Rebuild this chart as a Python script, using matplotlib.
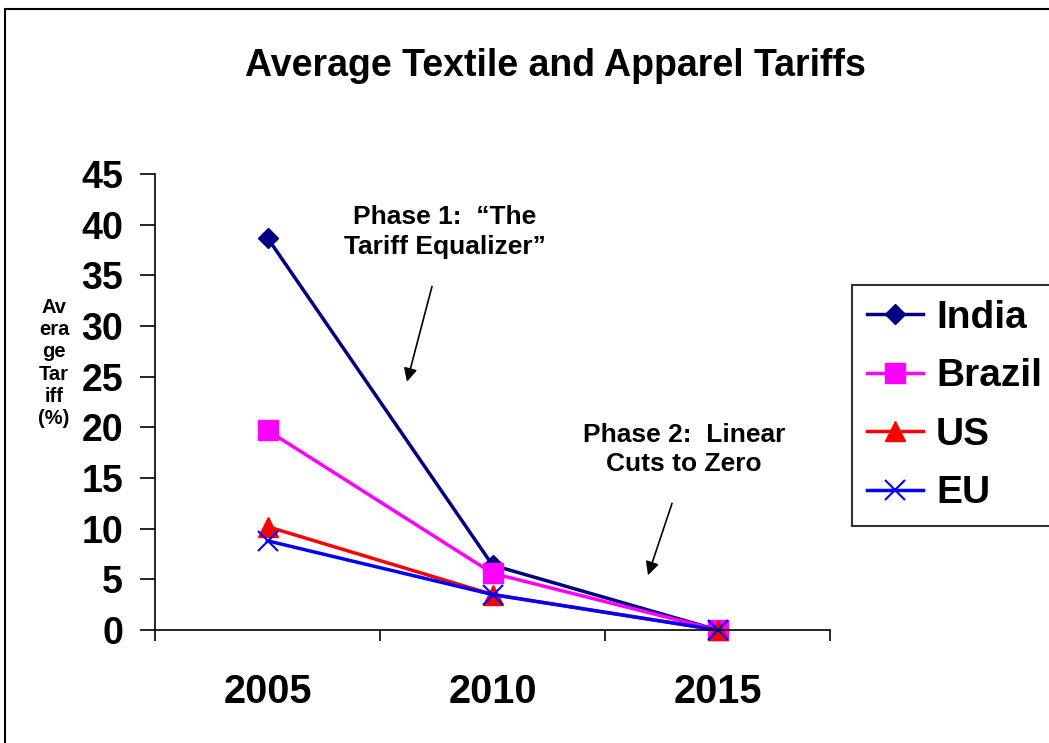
import matplotlib.pyplot as plt
from matplotlib.patches import Rectangle

years = ["2005", "2010", "2015"]
india = [38.7, 6.4, 0.0]
brazil = [19.7, 5.6, 0.0]
us = [10.2, 3.5, 0.0]
eu = [8.8, 3.5, 0.0]
yticks = [0, 5, 10, 15, 20, 25, 30, 35, 40, 45]

plt.rcParams['font.family'] = ['Liberation Sans', 'DejaVu Sans']
plt.rcParams['font.weight'] = 'bold'

fig = plt.figure(figsize=(10.49, 7.43), dpi=100)
ax = fig.add_axes([155 / 1049, 1 - 630 / 743, 675 / 1049, 456 / 743])

x = range(len(years))
ax.plot(x, india, color='#000080', lw=2.5, marker='D', ms=10, label='India', clip_on=False)
ax.plot(x, brazil, color='#FF00FF', lw=2.5, marker='s', ms=15, label='Brazil', clip_on=False)
ax.plot(x, us, color='#FF0000', lw=2.5, marker='^', ms=14, label='US', clip_on=False)
ax.plot(x, eu, color='#0000FF', lw=2.5, marker='x', ms=14, mew=1.5, label='EU', clip_on=False)

ax.set_xlim(-0.5, 2.5)
ax.set_ylim(0, 45)
ax.set_yticks(yticks)
ax.set_yticklabels([str(t) for t in yticks], fontsize=27, fontweight='bold')
# category boundaries get the tick marks, the year labels sit between them
ax.set_xticks([-0.5, 0.5, 1.5, 2.5])
ax.set_xticklabels([])
ax.set_xticks(list(x), minor=True)
ax.set_xticklabels(years, minor=True, fontsize=28.5, fontweight='bold')
ax.tick_params(axis='x', which='minor', length=0, pad=31)
ax.tick_params(axis='x', which='major', length=8, width=1.2, direction='out')
ax.tick_params(axis='y', length=11, width=1.2, direction='out', pad=12)
ax.spines['top'].set_visible(False)
ax.spines['right'].set_visible(False)
ax.spines['left'].set_linewidth(1.2)
ax.spines['bottom'].set_linewidth(1.2)

fig.text(555 / 1049, 1 - 66 / 743, "Average Textile and Apparel Tariffs",
         ha='center', va='center', fontsize=27, fontweight='bold')
fig.text(54 / 1049, 1 - 363 / 743, "Av\nera\nge\nTar\niff\n(%)",
         ha='center', va='center', fontsize=14.5, fontweight='bold', linespacing=1.22)

# phase notes and their arrows
ax.text(0.789, 39.3, "Phase 1:  \u201cThe\nTariff Equalizer\u201d", ha='center', va='center',
        fontsize=19, fontweight='bold', linespacing=1.3)
ax.annotate("", xy=(0.62, 24.5), xytext=(0.731, 33.9),
            arrowprops=dict(arrowstyle='-|>', color='black', lw=1.2, mutation_scale=20,
                            shrinkA=0, shrinkB=0))
ax.text(1.851, 17.8, "Phase 2:  Linear\nCuts to Zero", ha='center', va='center',
        fontsize=19, fontweight='bold', linespacing=1.3)
ax.annotate("", xy=(1.691, 5.4), xytext=(1.798, 12.5),
            arrowprops=dict(arrowstyle='-|>', color='black', lw=1.2, mutation_scale=20,
                            shrinkA=0, shrinkB=0))

leg = fig.legend(loc='upper left', bbox_to_anchor=(852 / 1049, 1 - 285 / 743),
                 prop={'size': 28, 'weight': 'bold'}, frameon=True, fancybox=False,
                 handlelength=1.45, handletextpad=0.33, labelspacing=0.58,
                 borderpad=0.38, borderaxespad=0)
leg.get_frame().set_edgecolor('black')
leg.get_frame().set_linewidth(1.5)

fig.patches.append(Rectangle((5 / 1049, -0.1), 1.2, 1.1 - 9 / 743, transform=fig.transFigure,
                             fill=False, edgecolor='black', lw=1.5))

fig.savefig("out.png", dpi=100)
